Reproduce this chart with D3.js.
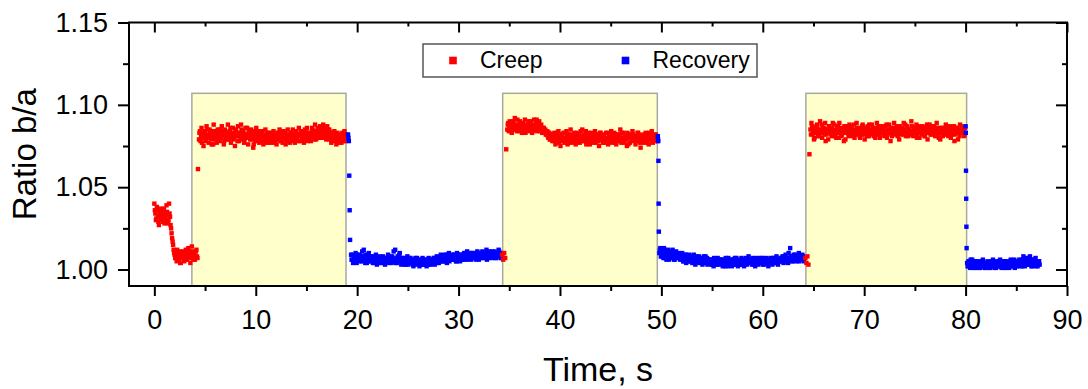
<!DOCTYPE html>
<html>
<head>
<meta charset="utf-8">
<script src="https://cdn.jsdelivr.net/npm/d3@7"></script>
<style>
  body { margin: 0; background: #fff; }
  svg { display: block; font-family: "Liberation Sans", Arial, sans-serif; }
</style>
</head>
<body>
<svg id="chart" width="1088" height="389"></svg>
<script>
// ratio b/a read off the plot; each run is sampled every 0.1 s,
// the "b" runs are the samples in between (offset by 0.05 s)
const creep1 = [
  1.040, 1.034, 1.031, 1.036, 1.029, 1.033, 1.037, 1.030, 1.032, 1.035, 1.028, 1.031, 1.039, 1.033, 1.030, 1.034,
  1.027, 1.022, 1.017, 1.012, 1.009,
  1.007, 1.005, 1.010, 1.006, 1.011, 1.004, 1.009, 1.007, 1.010, 1.008, 1.012, 1.006, 1.009, 1.011, 1.007, 1.010,
  1.014, 1.008, 1.009, 1.006, 1.011, 1.008,
  1.061,
  1.079, 1.084, 1.081, 1.077, 1.083, 1.080, 1.082, 1.078, 1.085, 1.081,
  1.080, 1.083, 1.079, 1.082, 1.076, 1.081, 1.084, 1.080, 1.083, 1.079,
  1.082, 1.085, 1.080, 1.083, 1.081, 1.078, 1.084, 1.082, 1.079, 1.083,
  1.081, 1.086, 1.080, 1.083, 1.079, 1.082, 1.084, 1.081, 1.078, 1.083,
  1.082, 1.080, 1.085, 1.081, 1.083, 1.079, 1.086, 1.082, 1.080, 1.084,
  1.081, 1.083, 1.079, 1.082, 1.076, 1.084, 1.080, 1.082, 1.078, 1.081,
  1.080, 1.083, 1.078, 1.081, 1.079, 1.082, 1.077, 1.081, 1.080, 1.083,
  1.079, 1.081, 1.078, 1.082, 1.080, 1.077, 1.081, 1.079, 1.083, 1.080,
  1.081, 1.078, 1.082, 1.080, 1.079, 1.083, 1.080, 1.078, 1.082, 1.081,
  1.080, 1.083, 1.081, 1.079, 1.082, 1.080, 1.084, 1.081, 1.078, 1.082,
  1.081, 1.083, 1.080, 1.082, 1.079, 1.084, 1.081, 1.083, 1.080, 1.082,
  1.083, 1.080, 1.085, 1.082, 1.079, 1.084, 1.081, 1.086, 1.082, 1.080,
  1.084, 1.081, 1.083, 1.086, 1.080, 1.083, 1.082, 1.085, 1.079, 1.083,
  1.081, 1.079, 1.083, 1.080, 1.078, 1.082, 1.079, 1.081, 1.077, 1.080,
  1.082, 1.079, 1.081, 1.078, 1.080, 1.082
];
const creep0b = [
  1.036, 1.030, 1.038, 1.032, 1.027, 1.035, 1.031, 1.034, 1.029, 1.037, 1.033, 1.030, 1.035, 1.028, 1.040, 1.032,
  1.025, 1.019, 1.015, 1.010, 1.007,
  1.009, 1.012, 1.006, 1.008, 1.004, 1.010, 1.007, 1.011, 1.005, 1.009, 1.006, 1.010, 1.013, 1.007, 1.004, 1.009,
  1.011, 1.006, 1.010, 1.008, 1.012, 1.007
];
const creep1b = [
  1.083, 1.078, 1.086, 1.080, 1.075, 1.084, 1.079, 1.087, 1.082, 1.077,
  1.085, 1.081, 1.076, 1.084, 1.088, 1.079, 1.082, 1.077, 1.085, 1.080,
  1.078, 1.084, 1.087, 1.081, 1.076, 1.085, 1.080, 1.083, 1.088, 1.079,
  1.084, 1.077, 1.082, 1.086, 1.080, 1.075, 1.085, 1.081, 1.087, 1.078,
  1.083, 1.088, 1.079, 1.084, 1.077, 1.082, 1.080, 1.086, 1.076, 1.084,
  1.079, 1.085, 1.081, 1.074, 1.083, 1.078, 1.086, 1.080, 1.084, 1.077,
  1.082, 1.078, 1.084, 1.076, 1.081, 1.085, 1.079, 1.083, 1.077, 1.080,
  1.083, 1.077, 1.080, 1.084, 1.078, 1.082, 1.076, 1.083, 1.079, 1.085,
  1.078, 1.083, 1.077, 1.084, 1.080, 1.076, 1.082, 1.085, 1.079, 1.077,
  1.083, 1.078, 1.085, 1.080, 1.077, 1.084, 1.079, 1.082, 1.086, 1.078,
  1.084, 1.079, 1.083, 1.077, 1.085, 1.080, 1.086, 1.078, 1.083, 1.081,
  1.078, 1.086, 1.081, 1.084, 1.088, 1.079, 1.083, 1.080, 1.085, 1.087,
  1.080, 1.085, 1.088, 1.082, 1.084, 1.079, 1.087, 1.081, 1.085, 1.083,
  1.077, 1.083, 1.079, 1.084, 1.081, 1.076, 1.083, 1.078, 1.082, 1.079,
  1.077, 1.083, 1.079, 1.084, 1.078
];
const recovery1Drop = [1.082, 1.080, 1.078, 1.057, 1.036, 1.018];
const recovery1 = [
  1.009, 1.006, 1.004, 1.008, 1.007, 1.005, 1.009, 1.006, 1.008, 1.005,
  1.007, 1.011, 1.006, 1.008, 1.004, 1.007, 1.009, 1.005, 1.007, 1.006,
  1.008, 1.005, 1.007, 1.004, 1.006, 1.008, 1.005, 1.007, 1.006, 1.004,
  1.007, 1.005, 1.006, 1.004, 1.007, 1.005, 1.006, 1.008, 1.005, 1.006,
  1.004, 1.007, 1.011, 1.005, 1.006, 1.004, 1.008, 1.006, 1.010, 1.005,
  1.006, 1.004, 1.007, 1.005, 1.003, 1.006, 1.005, 1.007, 1.004, 1.006,
  1.005, 1.003, 1.006, 1.004, 1.005, 1.007, 1.004, 1.005, 1.003, 1.006,
  1.004, 1.006, 1.003, 1.005, 1.004, 1.006, 1.005, 1.003, 1.006, 1.005,
  1.006, 1.004, 1.007, 1.005, 1.006, 1.004, 1.007, 1.006, 1.005, 1.008,
  1.006, 1.008, 1.005, 1.007, 1.009, 1.006, 1.007, 1.005, 1.008, 1.006,
  1.008, 1.006, 1.009, 1.007, 1.005, 1.008, 1.006, 1.009, 1.007, 1.008,
  1.006, 1.009, 1.007, 1.010, 1.008, 1.006, 1.009, 1.007, 1.008, 1.010,
  1.007, 1.009, 1.008, 1.010, 1.007, 1.009, 1.006, 1.008, 1.010, 1.008,
  1.009, 1.007, 1.010, 1.008, 1.006, 1.009, 1.011, 1.008, 1.009, 1.007,
  1.010, 1.008, 1.009, 1.007, 1.010, 1.008, 1.011, 1.009, 1.007, 1.009
];
const recovery1b = [
  1.006, 1.009, 1.005, 1.007, 1.010, 1.004, 1.008, 1.006, 1.009, 1.007,
  1.005, 1.008, 1.012, 1.006, 1.009, 1.004, 1.007, 1.010, 1.005, 1.008,
  1.006, 1.004, 1.008, 1.005, 1.009, 1.003, 1.007, 1.005, 1.008, 1.006,
  1.004, 1.008, 1.006, 1.003, 1.007, 1.005, 1.009, 1.004, 1.007, 1.005,
  1.008, 1.005, 1.006, 1.012, 1.004, 1.007, 1.005, 1.009, 1.006, 1.003,
  1.007, 1.005, 1.003, 1.006, 1.004, 1.008, 1.003, 1.005, 1.007, 1.004,
  1.006, 1.002, 1.005, 1.007, 1.003, 1.005, 1.006, 1.002, 1.005, 1.004,
  1.007, 1.003, 1.005, 1.006, 1.002, 1.004, 1.007, 1.005, 1.003, 1.006,
  1.005, 1.007, 1.003, 1.006, 1.008, 1.005, 1.004, 1.007, 1.009, 1.005,
  1.007, 1.005, 1.009, 1.006, 1.004, 1.008, 1.010, 1.006, 1.007, 1.009,
  1.006, 1.009, 1.007, 1.005, 1.010, 1.007, 1.008, 1.005, 1.009, 1.006,
  1.008, 1.010, 1.006, 1.009, 1.011, 1.007, 1.008, 1.010, 1.006, 1.009,
  1.010, 1.007, 1.009, 1.006, 1.011, 1.008, 1.010, 1.007, 1.009, 1.011,
  1.007, 1.010, 1.008, 1.012, 1.009, 1.007, 1.010, 1.008, 1.011, 1.009,
  1.008, 1.011, 1.007, 1.010, 1.008, 1.012, 1.009, 1.007, 1.010
];
const creep2 = [
  1.009, 1.006, 1.010, 1.007,
  1.073,
  1.085, 1.089, 1.086, 1.088, 1.084, 1.087, 1.090, 1.086, 1.088, 1.085,
  1.091, 1.087, 1.084, 1.088, 1.086, 1.089, 1.085, 1.087, 1.083, 1.086,
  1.088, 1.085, 1.087, 1.090, 1.086, 1.084, 1.088, 1.085, 1.087, 1.091,
  1.086, 1.088, 1.084, 1.087, 1.085, 1.083, 1.086, 1.084, 1.082,
  1.084, 1.081, 1.083, 1.079, 1.082, 1.080,
  1.081, 1.078, 1.082, 1.079, 1.083, 1.080, 1.077, 1.081, 1.079, 1.082,
  1.080, 1.078, 1.083, 1.079, 1.081, 1.077, 1.080, 1.082, 1.078, 1.081,
  1.079, 1.083, 1.080, 1.077, 1.081, 1.079, 1.082, 1.078, 1.080, 1.085,
  1.081, 1.078, 1.080, 1.076, 1.082, 1.079, 1.081, 1.078, 1.083, 1.080,
  1.077, 1.081, 1.079, 1.082, 1.080, 1.078, 1.081, 1.083, 1.079, 1.080,
  1.082, 1.078, 1.080, 1.079, 1.083, 1.077, 1.081, 1.080, 1.078, 1.082,
  1.079, 1.081, 1.077, 1.080, 1.082, 1.078, 1.081, 1.079, 1.083, 1.080,
  1.078, 1.081, 1.079, 1.075, 1.082, 1.080, 1.077, 1.081, 1.079, 1.082,
  1.080, 1.078, 1.081, 1.079, 1.083, 1.080, 1.077, 1.081, 1.078, 1.080,
  1.082, 1.079, 1.081, 1.077, 1.080, 1.083, 1.079, 1.081, 1.078, 1.080,
  1.082, 1.079, 1.081, 1.078
];
const creep2b = [
  1.088, 1.084, 1.090, 1.086, 1.083, 1.089, 1.085, 1.092, 1.087, 1.084,
  1.088, 1.085, 1.090, 1.086, 1.083, 1.089, 1.087, 1.091, 1.085, 1.088,
  1.084, 1.090, 1.086, 1.088, 1.083, 1.087, 1.091, 1.085, 1.089, 1.084,
  1.087, 1.090, 1.085, 1.088, 1.083, 1.086, 1.084,
  1.085, 1.082, 1.084, 1.080, 1.083, 1.079, 1.082, 1.078,
  1.079, 1.083, 1.076, 1.081, 1.078, 1.084, 1.080, 1.075, 1.082, 1.078,
  1.083, 1.077, 1.080, 1.084, 1.076, 1.082, 1.079, 1.085, 1.077, 1.081,
  1.078, 1.082, 1.076, 1.083, 1.079, 1.081, 1.077, 1.084, 1.080, 1.078,
  1.082, 1.079, 1.084, 1.077, 1.080, 1.083, 1.076, 1.081, 1.078, 1.082,
  1.080, 1.084, 1.077, 1.082, 1.078, 1.075, 1.083, 1.079, 1.081, 1.077,
  1.081, 1.077, 1.083, 1.079, 1.076, 1.082, 1.078, 1.084, 1.080, 1.077,
  1.083, 1.080, 1.076, 1.082, 1.078, 1.081, 1.085, 1.077, 1.080, 1.083,
  1.077, 1.081, 1.079, 1.083, 1.076, 1.080, 1.082, 1.078, 1.084, 1.079,
  1.081, 1.076, 1.080, 1.083, 1.078, 1.082, 1.074, 1.079, 1.081, 1.077,
  1.080, 1.083, 1.078, 1.081, 1.076, 1.082, 1.079, 1.084, 1.077, 1.081,
  1.078, 1.082, 1.080
];
const recovery2Drop = [1.081, 1.079, 1.078, 1.066, 1.040, 1.023];
const recovery2 = [
  1.010, 1.013, 1.008, 1.011, 1.007, 1.012, 1.009, 1.006, 1.010, 1.008,
  1.011, 1.007, 1.009, 1.012, 1.008, 1.006, 1.010, 1.008, 1.007, 1.009,
  1.007, 1.009, 1.006, 1.008, 1.005, 1.007, 1.009, 1.006, 1.008, 1.005,
  1.007, 1.005, 1.008, 1.006, 1.009, 1.004, 1.007, 1.006, 1.005, 1.008,
  1.006, 1.004, 1.007, 1.005, 1.008, 1.006, 1.004, 1.007, 1.005, 1.006,
  1.004, 1.006, 1.003, 1.005, 1.007, 1.004, 1.006, 1.003, 1.005, 1.004,
  1.006, 1.003, 1.005, 1.004, 1.006, 1.002, 1.005, 1.004, 1.007, 1.005,
  1.003, 1.005, 1.004, 1.006, 1.003, 1.005, 1.007, 1.004, 1.005, 1.003,
  1.005, 1.007, 1.004, 1.006, 1.003, 1.005, 1.004, 1.006, 1.008, 1.005,
  1.004, 1.006, 1.005, 1.003, 1.006, 1.004, 1.007, 1.005, 1.006, 1.004,
  1.006, 1.005, 1.003, 1.006, 1.004, 1.007, 1.005, 1.004, 1.006, 1.005,
  1.004, 1.006, 1.005, 1.007, 1.004, 1.006, 1.005, 1.003, 1.006, 1.005,
  1.007, 1.005, 1.006, 1.008, 1.005, 1.007, 1.006, 1.004, 1.007, 1.013,
  1.006, 1.008, 1.005, 1.007, 1.009, 1.006, 1.008, 1.007, 1.005, 1.008,
  1.007, 1.009, 1.006
];
const recovery2b = [
  1.012, 1.008, 1.011, 1.009, 1.013, 1.007, 1.010, 1.008, 1.012, 1.006,
  1.009, 1.011, 1.007, 1.010, 1.006, 1.009, 1.011, 1.007, 1.010, 1.008,
  1.006, 1.008, 1.010, 1.005, 1.007, 1.009, 1.004, 1.007, 1.006, 1.009,
  1.005, 1.008, 1.004, 1.007, 1.006, 1.003, 1.008, 1.005, 1.007, 1.004,
  1.007, 1.005, 1.003, 1.006, 1.004, 1.008, 1.005, 1.003, 1.006, 1.004,
  1.006, 1.003, 1.005, 1.002, 1.006, 1.005, 1.003, 1.007, 1.004, 1.006,
  1.004, 1.006, 1.002, 1.005, 1.003, 1.007, 1.004, 1.002, 1.005, 1.006,
  1.005, 1.002, 1.006, 1.004, 1.007, 1.003, 1.005, 1.002, 1.006, 1.004,
  1.003, 1.006, 1.005, 1.002, 1.005, 1.007, 1.003, 1.005, 1.004, 1.006,
  1.006, 1.003, 1.007, 1.004, 1.002, 1.005, 1.006, 1.003, 1.005, 1.007,
  1.004, 1.007, 1.005, 1.003, 1.006, 1.004, 1.006, 1.002, 1.005, 1.007,
  1.005, 1.003, 1.007, 1.004, 1.006, 1.008, 1.004, 1.006, 1.005, 1.007,
  1.006, 1.008, 1.004, 1.006, 1.009, 1.005, 1.007, 1.010, 1.006, 1.008,
  1.005, 1.007, 1.009, 1.006, 1.008, 1.005, 1.007, 1.010, 1.006, 1.008,
  1.006, 1.008, 1.005
];
const creep3 = [
  1.007, 1.004, 1.008, 1.003,
  1.070,
  1.085, 1.089, 1.082, 1.086, 1.080, 1.084, 1.087, 1.083, 1.085, 1.081,
  1.084, 1.088, 1.083, 1.086, 1.082, 1.078, 1.085, 1.083, 1.087, 1.084,
  1.082, 1.086, 1.089, 1.084, 1.081, 1.085, 1.083, 1.087, 1.080, 1.084,
  1.086, 1.082, 1.084, 1.078, 1.085, 1.083, 1.087, 1.084, 1.081, 1.086,
  1.083, 1.085, 1.081, 1.088, 1.084, 1.082, 1.086, 1.083, 1.085, 1.080,
  1.084, 1.087, 1.082, 1.085, 1.083, 1.086, 1.081, 1.084, 1.088, 1.083,
  1.085, 1.082, 1.086, 1.084, 1.080, 1.085, 1.083, 1.087, 1.082, 1.084,
  1.086, 1.083, 1.085, 1.081, 1.084, 1.088, 1.082, 1.085, 1.083, 1.078,
  1.084, 1.086, 1.082, 1.085, 1.083, 1.087, 1.081, 1.084, 1.086, 1.082,
  1.085, 1.083, 1.089, 1.084, 1.081, 1.086, 1.083, 1.085, 1.082, 1.084,
  1.087, 1.082, 1.085, 1.083, 1.086, 1.080, 1.084, 1.087, 1.083, 1.085,
  1.082, 1.086, 1.084, 1.081, 1.085, 1.088, 1.083, 1.084, 1.086, 1.082,
  1.085, 1.083, 1.087, 1.081, 1.084, 1.086, 1.082, 1.085, 1.079, 1.084,
  1.086, 1.083, 1.085, 1.082, 1.087, 1.084, 1.081, 1.085, 1.083, 1.086,
  1.082, 1.085, 1.078, 1.084, 1.086, 1.083, 1.085, 1.081, 1.084, 1.087,
  1.083, 1.085, 1.082
];
const creep3b = [
  1.082, 1.087, 1.084, 1.079, 1.086, 1.083, 1.088, 1.081, 1.085, 1.090,
  1.083, 1.080, 1.086, 1.084, 1.089, 1.082, 1.085, 1.079, 1.087, 1.083,
  1.086, 1.081, 1.084, 1.088, 1.082, 1.080, 1.086, 1.083, 1.089, 1.084,
  1.081, 1.085, 1.083, 1.087, 1.079, 1.084, 1.086, 1.082, 1.088, 1.083,
  1.087, 1.082, 1.085, 1.080, 1.084, 1.089, 1.083, 1.086, 1.081, 1.085,
  1.082, 1.088, 1.084, 1.079, 1.086, 1.083, 1.087, 1.081, 1.085, 1.084,
  1.088, 1.083, 1.081, 1.086, 1.084, 1.089, 1.082, 1.085, 1.080, 1.087,
  1.083, 1.086, 1.082, 1.087, 1.084, 1.080, 1.085, 1.088, 1.083, 1.086,
  1.081, 1.085, 1.089, 1.083, 1.086, 1.082, 1.084, 1.079, 1.087, 1.084,
  1.086, 1.082, 1.085, 1.088, 1.083, 1.087, 1.081, 1.085, 1.083, 1.090,
  1.084, 1.081, 1.086, 1.083, 1.088, 1.082, 1.085, 1.080, 1.086, 1.083,
  1.087, 1.084, 1.081, 1.086, 1.083, 1.079, 1.085, 1.088, 1.082, 1.086,
  1.083, 1.087, 1.082, 1.085, 1.089, 1.084, 1.080, 1.086, 1.083, 1.085,
  1.081, 1.086, 1.084, 1.088, 1.082, 1.085, 1.083, 1.087, 1.080, 1.085,
  1.084, 1.087, 1.082, 1.086, 1.083, 1.079, 1.085, 1.088, 1.083, 1.086,
  1.084, 1.081, 1.086
];
const recovery3Drop = [1.087, 1.083, 1.060, 1.043, 1.026, 1.013];
const recovery3 = [
  1.004, 1.002, 1.005, 1.001, 1.003, 1.006, 1.002, 1.004, 1.001, 1.003,
  1.005, 1.002, 1.003, 1.001, 1.004, 1.002, 1.005, 1.003, 1.001, 1.004,
  1.002, 1.004, 1.001, 1.003, 1.005, 1.002, 1.003, 1.001, 1.004, 1.002,
  1.003, 1.005, 1.002, 1.004, 1.001, 1.003, 1.002, 1.005, 1.003, 1.001,
  1.004, 1.002, 1.003, 1.006, 1.002, 1.004, 1.003, 1.001, 1.004, 1.002,
  1.005, 1.003, 1.004, 1.002, 1.006, 1.003, 1.005, 1.002, 1.004, 1.007,
  1.003, 1.005, 1.008, 1.004, 1.002, 1.006, 1.003, 1.005, 1.002, 1.004,
  1.003, 1.005
];
const recovery3b = [
  1.002, 1.005, 1.003, 1.006, 1.002, 1.004, 1.001, 1.005, 1.003, 1.002,
  1.004, 1.001, 1.005, 1.003, 1.002, 1.006, 1.003, 1.001, 1.004, 1.002,
  1.005, 1.003, 1.001, 1.004, 1.002, 1.006, 1.003, 1.004, 1.001, 1.005,
  1.002, 1.004, 1.006, 1.002, 1.003, 1.005, 1.001, 1.004, 1.002, 1.005,
  1.003, 1.001, 1.005, 1.003, 1.004, 1.002, 1.006, 1.003, 1.005, 1.002,
  1.004, 1.006, 1.003, 1.005, 1.002, 1.008, 1.004, 1.006, 1.003, 1.005,
  1.007, 1.003, 1.005, 1.002, 1.006, 1.004, 1.003, 1.007, 1.004, 1.002,
  1.005, 1.003
];

// sampling of each run: first time (s) and interval (s), drawn in this order
const segmentValues = [creep1, creep0b, creep1b, recovery1Drop, recovery1, recovery1b, creep2, creep2b,
  recovery2Drop, recovery2, recovery2b, creep3, creep3b, recovery3Drop, recovery3, recovery3b];
const segmentSeries = ["Creep", "Creep", "Creep", "Recovery", "Recovery", "Recovery", "Creep", "Creep",
  "Recovery", "Recovery", "Recovery", "Creep", "Creep", "Recovery", "Recovery", "Recovery"];
const segmentStart = [0, 0.05, 4.45, 19.1, 19.4, 19.45, 34.3, 34.85,
  49.65, 49.8, 49.85, 64.2, 64.75, 80.0, 80.15, 80.2];
const segmentStep = [0.1, 0.1, 0.1, 0.04, 0.1, 0.1, 0.1, 0.1,
  0.02, 0.1, 0.1, 0.1, 0.1, 0.02, 0.1, 0.1];

// loading windows (shaded)
const loadStart = [3.7, 34.35, 64.25];
const loadEnd = [18.9, 49.6, 80.1];
const loadTop = 1.107;

const seriesNames = ["Creep", "Recovery"];
const seriesColors = ["#ff0000", "#0000ff"];

const xTicks = [0, 10, 20, 30, 40, 50, 60, 70, 80, 90];
const xMinorTicks = [5, 15, 25, 35, 45, 55, 65, 75, 85];
const yTicks = [1.00, 1.05, 1.10, 1.15];
const yMinorTicks = [1.025, 1.075, 1.125];

const plotLeft = 129, plotRight = 1067, plotTop = 22.5, plotBottom = 286;

const svg = d3.select("#chart");
const x = d3.scaleLinear().domain([-2.5, 90]).range([plotLeft, plotRight]);
const y = d3.scaleLinear().domain([0.99, 1.15]).range([plotBottom, plotTop]);
const color = d3.scaleOrdinal().domain(seriesNames).range(seriesColors);

// shaded load windows
svg.append("g").selectAll("rect")
  .data(loadStart)
  .enter()
  .append("rect")
  .attr("x", d => x(d))
  .attr("y", y(loadTop))
  .attr("width", (d, i) => x(loadEnd[i]) - x(d))
  .attr("height", y(0.99) - y(loadTop))
  .attr("fill", "#ffffcc")
  .attr("stroke", "#a8a8a0")
  .attr("stroke-width", 1.5);

// points, in time order
const points = segmentValues.flatMap((vals, s) =>
  vals.map((v, i) => ({t: segmentStart[s] + i * segmentStep[s], v: v, series: segmentSeries[s]})));

const ms = 4.4;
svg.append("g").selectAll("rect")
  .data(points)
  .enter()
  .append("rect")
  .attr("x", d => x(d.t) - ms / 2)
  .attr("y", d => y(d.v) - ms / 2)
  .attr("width", ms)
  .attr("height", ms)
  .attr("fill", d => color(d.series));

// axes
function styleAxis(g) {
  g.select(".domain").remove();
  g.selectAll("line").attr("stroke", "#000").attr("stroke-width", 2);
  g.selectAll("text").attr("fill", "#000");
  g.attr("font-size", 27).attr("font-family", "Liberation Sans, Arial, sans-serif");
}

svg.append("g")
  .attr("transform", "translate(0," + plotBottom + ")")
  .call(d3.axisBottom(x).tickValues(xTicks).tickFormat(d3.format("d")).tickSize(10).tickPadding(14))
  .call(styleAxis);
svg.append("g")
  .attr("transform", "translate(0," + plotBottom + ")")
  .call(d3.axisBottom(x).tickValues(xMinorTicks).tickFormat("").tickSize(5))
  .call(styleAxis);
svg.append("g")
  .attr("transform", "translate(0," + plotTop + ")")
  .call(d3.axisBottom(x).tickValues(xTicks).tickFormat("").tickSize(10))
  .call(styleAxis);
svg.append("g")
  .attr("transform", "translate(0," + plotTop + ")")
  .call(d3.axisBottom(x).tickValues(xMinorTicks).tickFormat("").tickSize(4))
  .call(styleAxis);

svg.append("g")
  .attr("transform", "translate(" + plotLeft + ",0)")
  .call(d3.axisLeft(y).tickValues(yTicks).tickFormat(d3.format(".2f")).tickSize(11).tickPadding(10))
  .call(styleAxis);
svg.append("g")
  .attr("transform", "translate(" + plotLeft + ",0)")
  .call(d3.axisLeft(y).tickValues(yMinorTicks).tickFormat("").tickSize(6))
  .call(styleAxis);
svg.append("g")
  .attr("transform", "translate(" + plotRight + ",0)")
  .call(d3.axisLeft(y).tickValues(yTicks).tickFormat("").tickSize(11))
  .call(styleAxis);
svg.append("g")
  .attr("transform", "translate(" + plotRight + ",0)")
  .call(d3.axisLeft(y).tickValues(yMinorTicks).tickFormat("").tickSize(5))
  .call(styleAxis);

// frame
svg.append("rect")
  .attr("x", plotLeft).attr("y", plotTop)
  .attr("width", plotRight - plotLeft).attr("height", plotBottom - plotTop)
  .attr("fill", "none").attr("stroke", "#000").attr("stroke-width", 2);

// titles
svg.append("text")
  .attr("x", (plotLeft + plotRight) / 2).attr("y", 381)
  .attr("text-anchor", "middle")
  .attr("font-size", 34)
  .text("Time, s");
svg.append("text")
  .attr("transform", "translate(36," + (plotTop + plotBottom) / 2 + ") rotate(-90)")
  .attr("text-anchor", "middle")
  .attr("font-size", 33)
  .text("Ratio b/a");

// legend
const legend = svg.append("g");
legend.append("rect")
  .attr("x", 423).attr("y", 44).attr("width", 334).attr("height", 33)
  .attr("fill", "#fff").attr("stroke", "#555").attr("stroke-width", 1.5);
const legendX = [453, 625.5];
const legendItems = legend.selectAll("g.item")
  .data(seriesNames)
  .enter()
  .append("g")
  .attr("transform", (d, i) => "translate(" + legendX[i] + ",60.5)");
legendItems.append("rect")
  .attr("x", -3.8).attr("y", -3.8).attr("width", 7.6).attr("height", 7.6)
  .attr("fill", d => color(d));
legendItems.append("text")
  .attr("x", 27).attr("y", 7.5)
  .attr("font-size", 23)
  .text(d => d);
</script>
</body>
</html>
